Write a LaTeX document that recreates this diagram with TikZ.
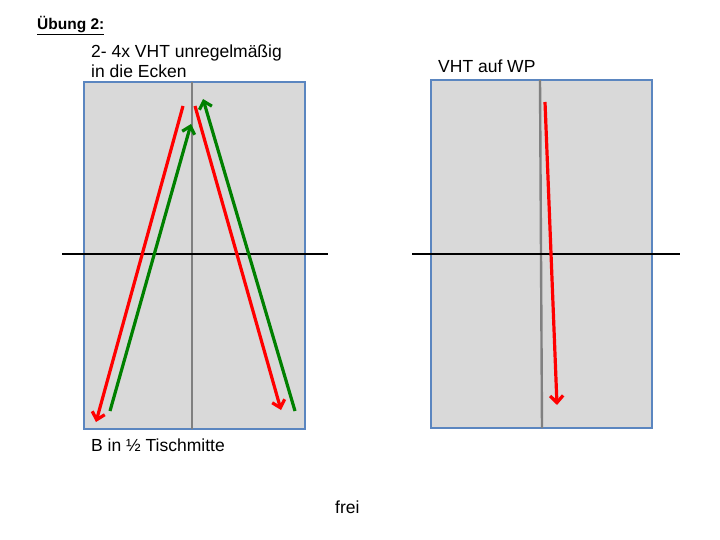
\documentclass[tikz,border=0pt]{standalone}
\usepackage{fontspec}
\setmainfont{Liberation Sans}
\usetikzlibrary{arrows.meta}
\definecolor{boxfill}{HTML}{D9D9D9}
\definecolor{boxline}{HTML}{5B86C0}
\definecolor{myred}{HTML}{FF0000}
\definecolor{mygreen}{HTML}{008000}
\definecolor{axisgray}{HTML}{808080}
\tikzset{
  table/.style={fill=boxfill, draw=boxline, line width=1.8pt},
  midline/.style={draw=axisgray, line width=2.4pt},
  crossline/.style={draw=black, line width=2pt},
  redarrow/.style={draw=myred, line width=3.2pt, -{Straight Barb[length=7pt,width=13pt,line width=3.2pt]}},
  greenarrow/.style={draw=mygreen, line width=3.2pt, -{Straight Barb[length=7pt,width=13pt,line width=3.2pt]}},
  label/.style={font=\fontsize{17.5}{19.5}\selectfont, anchor=base west, inner sep=0pt, align=left}
}
\begin{document}
\begin{tikzpicture}[x=1pt,y=-1pt]
\useasboundingbox (0,0) rectangle (720,540);
% left table
\draw[table] (84,82) rectangle (305,429);
\coordinate (lt) at (192,82); \coordinate (lb) at (192,429);
\draw[midline] (lt) -- (lb);
\coordinate (ll) at (62,254); \coordinate (lr) at (328,254);
\draw[crossline] (ll) -- (lr);
% left arrows
\coordinate (r1s) at (183,106); \coordinate (r1e) at (96,422);
\coordinate (r2s) at (195,106); \coordinate (r2e) at (281,410);
\coordinate (g1s) at (110,411); \coordinate (g1e) at (191,124);
\coordinate (g2s) at (295,411); \coordinate (g2e) at (203,99);
\draw[redarrow] (r1s) -- (r1e);
\draw[redarrow] (r2s) -- (r2e);
\draw[greenarrow] (g1s) -- (g1e);
\draw[greenarrow] (g2s) -- (g2e);
% right table
\draw[table] (431,80) rectangle (652,428);
\coordinate (rt) at (540,80); \coordinate (rb) at (542,428);
\draw[midline] (rt) -- (rb);
\coordinate (rl) at (412,254); \coordinate (rr) at (680,254);
\draw[crossline] (rl) -- (rr);
\coordinate (r3s) at (545,102); \coordinate (r3e) at (557,405);
\draw[redarrow] (r3s) -- (r3e);
% texts
\node[anchor=base west, inner sep=0pt, font=\fontsize{15.5}{17}\selectfont\bfseries] (title) at (37,30) {\underline{Übung 2:}};
\node[label] (t1) at (91,58) {2- 4x VHT unregelmäßig};
\node[label] (t1b) at (91,78) {in die Ecken};
\node[label] (t2) at (438,73) {VHT auf WP};
\node[label] (t3) at (91,451) {B in ½ Tischmitte};
\node[label] (t4) at (335,513) {frei};
\end{tikzpicture}
\end{document}
